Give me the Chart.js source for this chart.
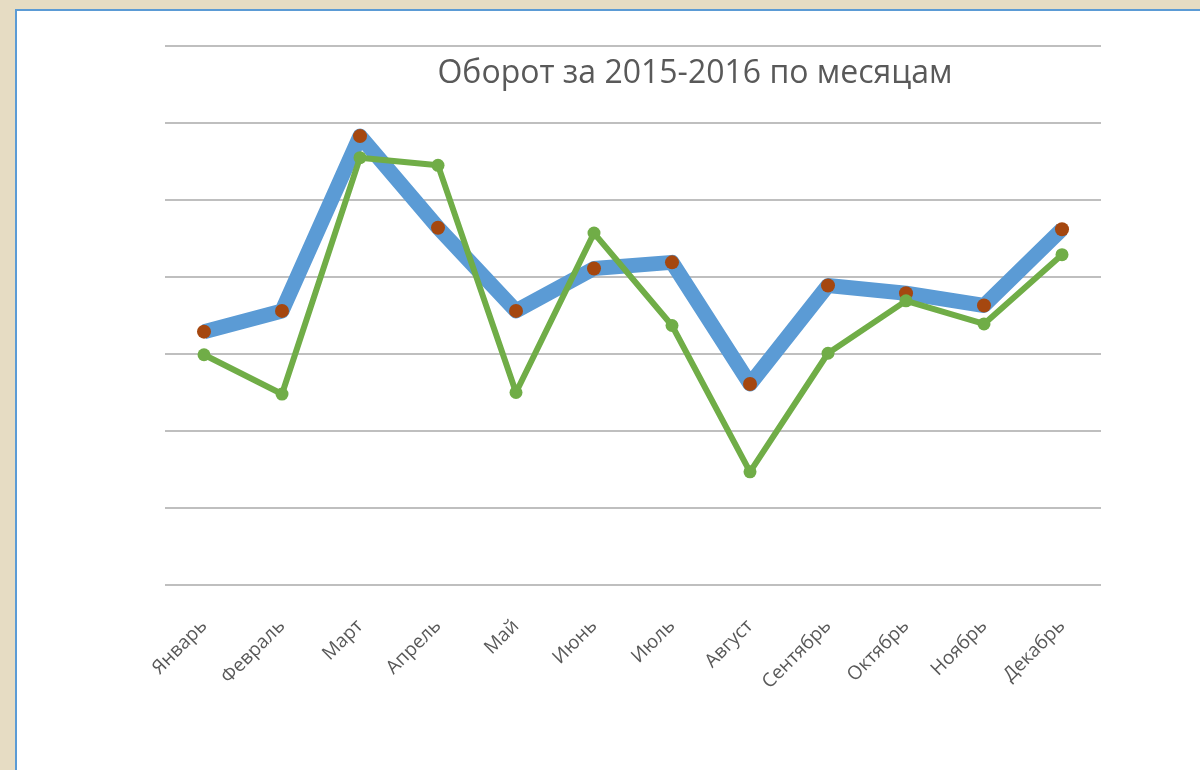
<!DOCTYPE html>
<html>
<head>
<meta charset="utf-8">
<script src="https://cdn.jsdelivr.net/npm/chart.js@4/dist/chart.umd.min.js"></script>
<style>
  html, body { margin: 0; padding: 0; }
  body { width: 1200px; height: 770px; background: #e6dcc3; position: relative; overflow: hidden; }
  .panel { position: absolute; left: 15px; top: 9px; width: 1185px; height: 761px;
           background: #fff; border-left: 2px solid #5b9bd5; border-top: 2px solid #5b9bd5; box-sizing: border-box; }
  canvas { position: absolute; left: 0; top: 0; }
</style>
</head>
<body>
<div class="panel"></div>
<canvas id="myChart" width="1200" height="770"></canvas>
<script>
// Data
const months = ['Январь', 'Февраль', 'Март', 'Апрель', 'Май', 'Июнь', 'Июль', 'Август', 'Сентябрь', 'Октябрь', 'Ноябрь', 'Декабрь'];
const series2015 = [3.29, 3.56, 5.83, 4.64, 3.56, 4.11, 4.19, 2.61, 3.89, 3.79, 3.63, 4.62];
const series2016 = [2.99, 2.48, 5.55, 5.45, 2.50, 4.57, 3.37, 1.47, 3.01, 3.69, 3.39, 4.29];
const titleText = 'Оборот за 2015-2016 по месяцам';

// title sits inside the plot, off-centre, like the original
const titlePlugin = {
    id: 'innerTitle',
    afterDraw(chart) {
        const c = chart.ctx;
        c.save();
        c.font = '32px "Open Sans"';
        c.fillStyle = '#595959';
        c.textAlign = 'center';
        c.textBaseline = 'middle';
        c.fillText(titleText, 695, 74);
        c.restore();
    }
};

const ctx = document.getElementById('myChart').getContext('2d');
const myChart = new Chart(ctx, {
    type: 'line',
    data: {
        labels: months,
        datasets: [{
            label: '2015',
            data: series2015,
            order: 2,
            borderColor: '#5b9bd5',
            borderWidth: 15,
            borderJoinStyle: 'round',
            pointRadius: 7,
            pointBackgroundColor: '#a5470f',
            pointBorderColor: '#a5470f',
            pointBorderWidth: 0,
            tension: 0,
        }, {
            label: '2016',
            data: series2016,
            order: 1,
            borderColor: '#70ad47',
            borderWidth: 6,
            borderJoinStyle: 'round',
            pointRadius: 6.5,
            pointBackgroundColor: '#70ad47',
            pointBorderColor: '#70ad47',
            pointBorderWidth: 0,
            tension: 0,
        }]
    },
    options: {
        responsive: false,
        animation: false,
        layout: {
            padding: { left: 165, right: 99, top: 46, bottom: 45 }
        },
        plugins: {
            legend: { display: false },
            title: { display: false },
            tooltip: { enabled: false }
        },
        scales: {
            x: {
                offset: true,
                grid: { display: false },
                border: { display: false },
                ticks: {
                    minRotation: 45,
                    maxRotation: 45,
                    color: '#595959',
                    font: { family: 'Open Sans', size: 19 },
                    padding: 22
                },
                afterFit(s) { s.height = 140; }
            },
            y: {
                min: 0,
                max: 7,
                ticks: { display: false, stepSize: 1 },
                border: { display: false },
                grid: { color: '#bfbfbf', lineWidth: 2, drawTicks: false },
                afterFit(s) { s.width = 0; }
            }
        }
    },
    plugins: [titlePlugin]
});
</script>
</body>
</html>
